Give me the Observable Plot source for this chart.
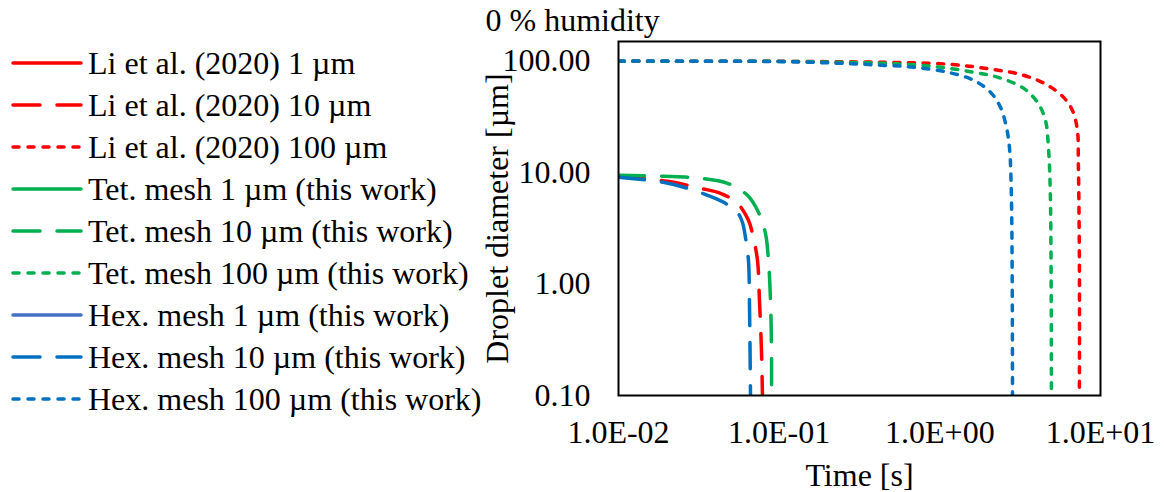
<!DOCTYPE html>
<html>
<head>
<meta charset="utf-8">
<script src="https://cdn.jsdelivr.net/npm/d3@7"></script>
<script src="https://cdn.jsdelivr.net/npm/@observablehq/plot@0.6"></script>
<style>
  html, body { margin: 0; padding: 0; background: #fff; }
  #wrap { position: relative; width: 1164px; height: 492px; font-family: "Liberation Serif", "Times New Roman", serif; }
  #legend { position: absolute; left: 0; top: 0; }
</style>
</head>
<body>
<div id="wrap"></div>
<script>
// ---- Data (time in s, droplet diameter in µm) ----
const chartTitle = "0 % humidity";
const xLabel = "Time [s]";
const yLabel = "Droplet diameter [µm]";

const xTicks = [0.01, 0.1, 1, 10];
const xTickLabels = ["1.0E-02", "1.0E-01", "1.0E+00", "1.0E+01"];
const yTicks = [0.1, 1, 10, 100];
const yTickLabels = ["0.10", "1.00", "10.00", "100.00"];

const seriesNames = [
  "Li et al. (2020) 1 µm", "Li et al. (2020) 10 µm", "Li et al. (2020) 100 µm",
  "Tet. mesh 1 µm (this work)", "Tet. mesh 10 µm (this work)", "Tet. mesh 100 µm (this work)",
  "Hex. mesh 1 µm (this work)", "Hex. mesh 10 µm (this work)", "Hex. mesh 100 µm (this work)"
];
const seriesColors = ["#FF0000", "#FF0000", "#FF0000", "#00B050", "#00B050", "#00B050", "#4472C4", "#0070C0", "#0070C0"];
const seriesStyles = ["solid", "dash", "dot", "solid", "dash", "dot", "solid", "dash", "dot"];

// 1 µm droplets evaporate before 0.01 s: no points within the plotted range
const li1T = [], li1D = [];
const tet1T = [], tet1D = [];
const hex1T = [], hex1D = [];

const li10T = [0.01, 0.0202, 0.0324, 0.0431, 0.0550, 0.0644, 0.0692, 0.0733, 0.0754, 0.0776, 0.0787];
const li10D = [9.27, 8.35, 7.23, 6.52, 5.30, 3.73, 2.57, 1.63, 0.713, 0.253, 0.1];

const tet10T = [0.01, 0.0190, 0.0324, 0.0477, 0.0635, 0.0743, 0.0822, 0.0858, 0.0883, 0.0896, 0.0897];
const tet10D = [9.46, 9.27, 8.89, 8.01, 6.25, 4.40, 2.85, 1.63, 0.713, 0.253, 0.1];

const hex10T = [0.01, 0.0190, 0.0269, 0.0358, 0.0463, 0.0550, 0.0591, 0.0617, 0.0644, 0.0653, 0.0663];
const hex10D = [9.07, 8.18, 7.23, 6.25, 5.30, 4.40, 3.57, 2.62, 1.63, 0.713, 0.1];

const li100T = [0.01, 0.1, 0.251, 0.427, 1.114, 2.065, 3.313, 4.674, 5.872, 6.68, 7.18, 7.28, 7.39, 7.39];
const li100D = [100, 99.6, 98.6, 97.9, 94.0, 84.8, 74.8, 60.9, 47.5, 36.3, 24.0, 12.1, 1.53, 0.1];

const tet100T = [0.01, 0.1, 0.251, 0.427, 0.874, 1.618, 2.383, 3.313, 4.047, 4.540, 4.741, 4.877, 4.947];
const tet100D = [100, 99.4, 97.5, 95.95, 90.2, 79.6, 70.4, 57.2, 42.8, 29.5, 16.9, 6.0, 0.1];

const hex100T = [0.01, 0.1, 0.251, 0.427, 0.685, 1.114, 1.618, 2.065, 2.383, 2.597, 2.711, 2.790, 2.833];
const hex100D = [100, 99.0, 95.4, 92.05, 88.3, 79.6, 67.5, 52.7, 38.6, 25.5, 16.9, 6.0, 0.1];

const seriesT = [li1T, li10T, li100T, tet1T, tet10T, tet100T, hex1T, hex10T, hex100T];
const seriesD = [li1D, li10D, li100D, tet1D, tet10D, tet100D, hex1D, hex10D, hex100D];

// ---- Build ----
const dashFor = {solid: null, dash: "26,17", dot: "6,8.5"};
const FONT = "Liberation Serif, Times New Roman, serif";

const lineMarks = seriesNames.map((name, i) => {
  const rows = seriesT[i].map((t, j) => ({t, d: seriesD[i][j], series: name}));
  return Plot.line(rows, {
    x: "t", y: "d",
    stroke: seriesColors[i],
    strokeWidth: 3.5,
    strokeLinecap: "round",
    strokeDasharray: dashFor[seriesStyles[i]],
    curve: "catmull-rom",
    clip: true
  });
});

const chart = Plot.plot({
  width: 1164,
  height: 492,
  marginLeft: 618,
  marginRight: 64,
  marginTop: 41,
  marginBottom: 97,
  style: {fontFamily: FONT, fontSize: "32px", color: "#000", background: "#fff"},
  x: {type: "log", domain: [0.01, 10]},
  y: {type: "log", domain: [0.1, 150]},
  marks: [
    ...lineMarks,
    Plot.frame({stroke: "#000", strokeWidth: 2}),
    Plot.axisX({ticks: xTicks, tickFormat: (d) => xTickLabels[xTicks.indexOf(d)], tickSize: 0, tickPadding: 25, label: null, fontSize: 32}),
    Plot.axisY({ticks: yTicks, tickFormat: (d) => yTickLabels[yTicks.indexOf(d)], tickSize: 0, tickPadding: 28, label: null, fontSize: 32}),
    Plot.text([chartTitle], {text: d => d, frameAnchor: "top-left", dx: -133, dy: -21, textAnchor: "start", lineAnchor: "middle", fontSize: 32}),
    Plot.text([yLabel], {text: d => d, frameAnchor: "left", rotate: -90, dx: -121, textAnchor: "middle", lineAnchor: "middle", fontSize: 32}),
    Plot.text([xLabel], {text: d => d, frameAnchor: "bottom", dy: 80, textAnchor: "middle", lineAnchor: "middle", fontSize: 32})
  ]
});

const wrap = document.getElementById("wrap");
wrap.appendChild(chart);

// ---- Legend (left side) ----
const leg = d3.select(wrap).append("svg")
  .attr("id", "legend")
  .attr("width", 560).attr("height", 492)
  .style("font-family", FONT).style("font-size", "32px");
seriesNames.forEach((name, i) => {
  const cy = 63 + 42 * i;
  const g = leg.append("g").attr("transform", `translate(0,${cy})`);
  g.append("line").attr("x1", 13).attr("x2", 81).attr("y1", 0).attr("y2", 0)
    .attr("stroke", seriesColors[i]).attr("stroke-width", 3.5).attr("stroke-linecap", "round")
    .attr("stroke-dasharray", seriesStyles[i] === "dash" ? "27,17" : seriesStyles[i] === "dot" ? "6,9" : null);
  g.append("text").attr("x", 88).attr("y", 0).attr("dy", "0.33em").attr("fill", "#000").text(name);
});
</script>
</body>
</html>
